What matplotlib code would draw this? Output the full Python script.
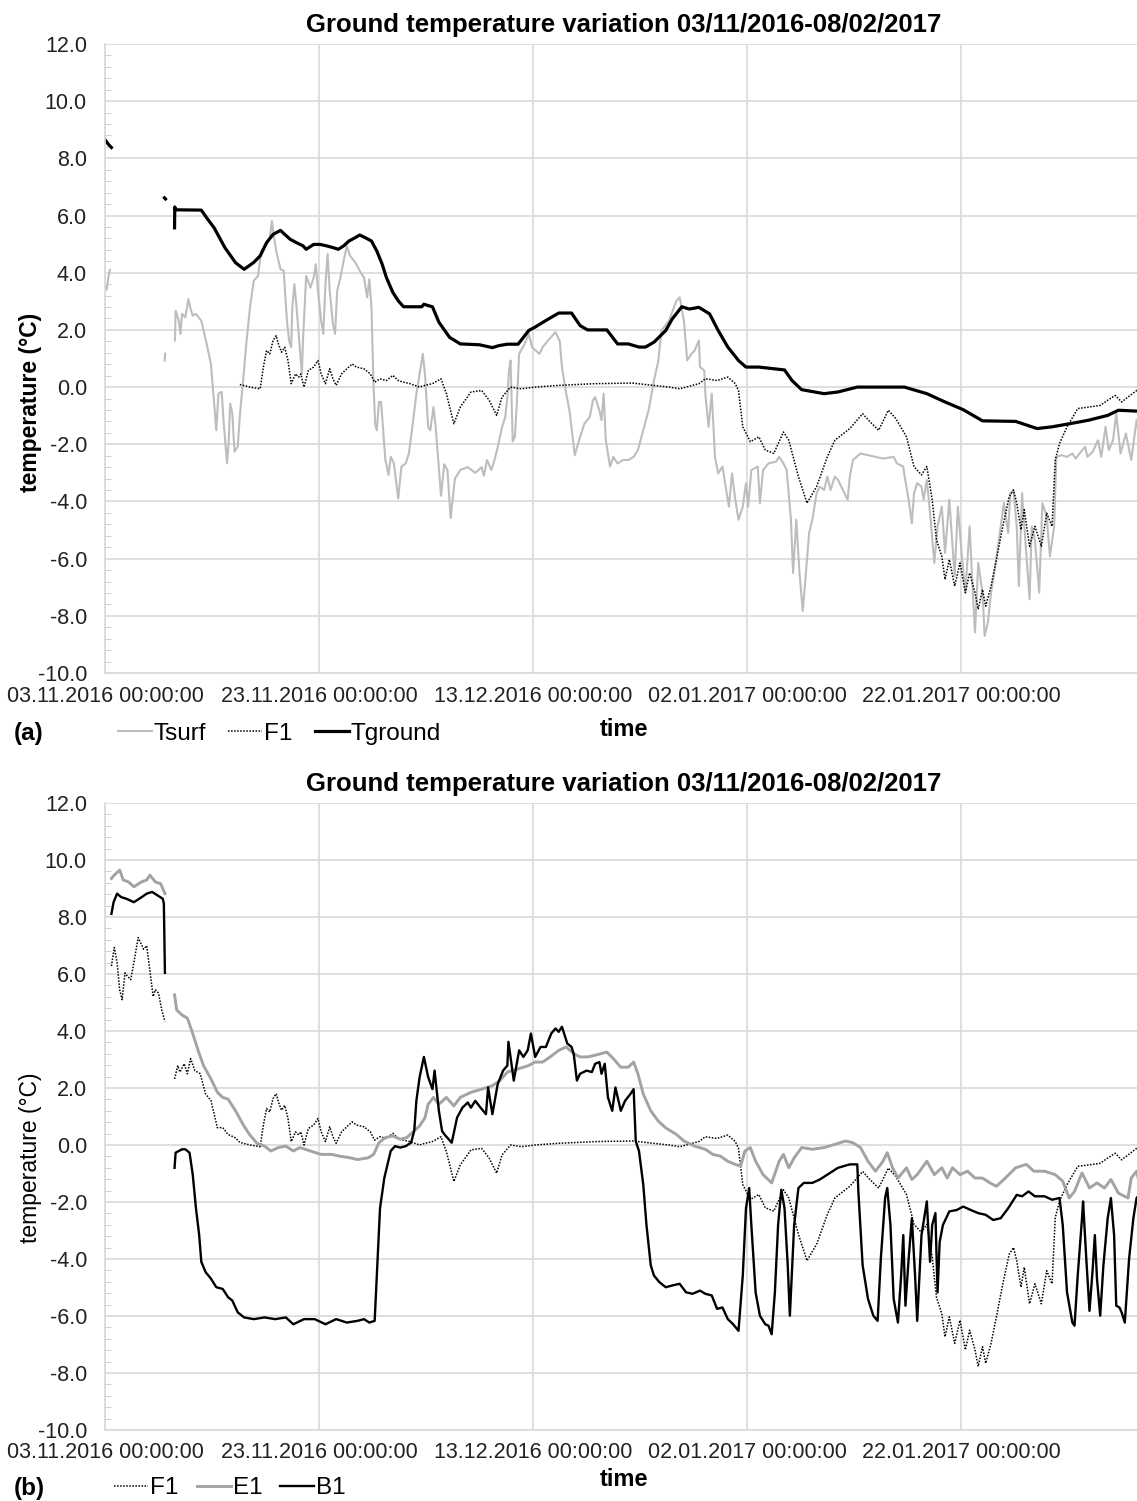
import numpy as np
import pandas as pd
import matplotlib
matplotlib.use("Agg")
import matplotlib.pyplot as plt
import matplotlib.dates as mdates
from matplotlib.lines import Line2D
from matplotlib.ticker import MultipleLocator

plt.rcParams["font.family"] = ["Liberation Sans", "DejaVu Sans"]

START = pd.Timestamp("2016-11-03")
N_DAYS = 97  # up to 08.02.2017
TITLE = "Ground temperature variation 03/11/2016-08/02/2017"
TICK_DAYS = [0, 20, 40, 60, 80]
Y_TICKS = np.arange(-10, 12.1, 2)

# series: (days since 03.11.2016, temperature °C),
# one inner list per unbroken piece of line
TSURF = [
    [(0.0, 3.5), (0.15, 3.4), (0.3, 3.8), (0.45, 4.1)],
    [(5.58, 0.93), (5.62, 1.17)],
    [(6.54, 1.63), (6.6, 2.67), (6.9, 2.32), (7.05, 1.86), (7.2, 2.56), (7.5, 2.44), (7.8, 3.08),
     (8.0, 2.73), (8.2, 2.5), (8.5, 2.56), (9.0, 2.32), (9.5, 1.51), (9.9, 0.8), (10.2, -0.58),
     (10.4, -1.51), (10.6, -0.23), (10.9, -0.17), (11.1, -1.28), (11.4, -2.67), (11.55, -1.97),
     (11.7, -0.58), (11.9, -0.93), (12.1, -2.26), (12.4, -2.09), (12.6, -1.0), (12.9, 0.2),
     (13.2, 1.5), (13.55, 2.79), (13.9, 3.72), (14.3, 3.89), (14.6, 4.76), (15.1, 5.05),
     (15.4, 5.23), (15.6, 5.81), (15.8, 5.23), (16.0, 4.76), (16.4, 4.12), (16.7, 4.07),
     (17.0, 2.32), (17.2, 1.63), (17.4, 1.39), (17.5, 2.79), (17.7, 3.6), (17.9, 2.79),
     (18.2, 1.39), (18.4, 0.46), (18.5, 1.63), (18.8, 3.89), (19.2, 3.48), (19.5, 3.83),
     (19.7, 4.3), (19.9, 3.37), (20.2, 2.32), (20.4, 1.86), (20.6, 3.6), (20.8, 4.65),
     (21.0, 3.37), (21.3, 2.21), (21.5, 1.86), (21.7, 3.37), (22.0, 3.83), (22.3, 4.41),
     (22.6, 4.94), (22.9, 4.59), (23.4, 4.36), (23.8, 4.07), (24.2, 3.83), (24.5, 3.14),
     (24.7, 3.77), (24.9, 2.79), (25.1, 0.0), (25.25, -1.3), (25.4, -1.51), (25.6, -0.52),
     (25.8, -0.52), (26.2, -2.55), (26.5, -3.07), (26.7, -2.44), (27.0, -2.67), (27.4, -3.89),
     (27.7, -2.78), (28.1, -2.67), (28.4, -2.32), (28.8, -1.16), (29.1, -0.23), (29.4, 0.46),
     (29.7, 1.16), (29.9, 0.46), (30.2, -1.39), (30.4, -1.51), (30.7, -0.7), (30.9, -1.39),
     (31.4, -3.8), (31.7, -2.7), (32.0, -2.9), (32.3, -4.58), (32.7, -3.2), (33.2, -2.9),
     (33.9, -2.8), (34.6, -3.0), (35.2, -2.8), (35.4, -3.1), (35.7, -2.55), (36.1, -2.9),
     (36.4, -2.55), (36.7, -2.1), (37.1, -1.4), (37.4, -1.05), (37.6, -0.35), (37.75, 0.58),
     (37.9, 0.93), (38.1, -1.9), (38.3, -1.74), (38.5, -0.46), (38.7, 1.16), (39.2, 1.5),
     (39.6, 1.86), (39.9, 1.4), (40.6, 1.16), (40.9, 1.4), (41.4, 1.63), (42.1, 1.92),
     (42.5, 1.6), (42.7, 0.7), (43.1, -0.23), (43.4, -0.81), (43.8, -2.09), (43.9, -2.38),
     (44.3, -1.86), (44.8, -1.28), (45.3, -1.04), (45.6, -0.46), (45.8, -0.35), (46.2, -0.81),
     (46.4, -1.16), (46.6, -0.23), (46.8, -1.86), (47.2, -2.78), (47.5, -2.44), (47.9, -2.67),
     (48.4, -2.55), (48.9, -2.55), (49.4, -2.44), (49.8, -2.2), (50.3, -1.51), (50.8, -0.81),
     (51.3, 0.23), (51.7, 0.9), (52.0, 1.98), (52.7, 2.32), (53.4, 3.02), (53.7, 3.14),
     (54.1, 2.32), (54.4, 0.93), (54.8, 1.16), (55.1, 1.28), (55.5, 1.63), (55.6, 0.7),
     (56.0, 0.58), (56.1, -0.23), (56.4, -1.39), (56.7, -0.23), (57.0, -2.44), (57.3, -3.02),
     (57.7, -2.78), (58.0, -3.48), (58.3, -4.18), (58.6, -3.02), (58.9, -3.94), (59.2, -4.64),
     (59.6, -4.18), (59.9, -3.36), (60.1, -4.18), (60.4, -2.9), (61.0, -2.78), (61.2, -4.06),
     (61.5, -2.9), (62.0, -2.67), (62.7, -2.61), (63.0, -2.44), (63.4, -2.67), (63.7, -2.9),
     (64.1, -4.64), (64.3, -6.5), (64.6, -4.64), (64.9, -6.5), (65.2, -7.83), (65.4, -6.96),
     (65.8, -5.1), (66.1, -4.64), (66.5, -3.71), (66.8, -3.48), (67.2, -3.6), (67.5, -3.13),
     (67.8, -3.6), (68.2, -3.13), (68.5, -3.25), (69.1, -3.71), (69.4, -3.94), (69.6, -3.13),
     (69.9, -2.55), (70.6, -2.32), (71.3, -2.38), (72.0, -2.44), (72.7, -2.5), (73.7, -2.44),
     (74.0, -2.67), (74.6, -2.78), (74.7, -3.07), (75.1, -3.94), (75.4, -4.76), (75.6, -3.71),
     (75.9, -3.36), (76.3, -3.48), (76.5, -3.94), (76.8, -3.25), (77.1, -4.41), (77.5, -6.15),
     (77.8, -4.87), (78.2, -4.18), (78.5, -5.8), (78.9, -3.94), (79.4, -6.61), (79.7, -4.18),
     (80.1, -6.03), (80.4, -7.19), (80.8, -4.87), (81.1, -7.19), (81.3, -8.58), (81.6, -6.15),
     (82.0, -7.19), (82.2, -8.7), (82.5, -8.24), (82.8, -7.19), (83.2, -6.26), (83.7, -4.87),
     (84.0, -4.06), (84.4, -5.1), (84.6, -3.71), (84.9, -3.6), (85.2, -4.87), (85.4, -6.96),
     (85.7, -3.71), (86.0, -5.34), (86.4, -7.42), (86.6, -4.87), (86.9, -5.34), (87.3, -7.19),
     (87.6, -4.06), (88.0, -4.52), (88.3, -5.92), (88.7, -4.87), (88.9, -2.44), (89.4, -2.38),
     (89.9, -2.44), (90.4, -2.32), (90.7, -2.5), (91.2, -2.26), (91.6, -2.09), (91.8, -2.44),
     (92.3, -2.26), (92.8, -1.86), (93.1, -2.44), (93.5, -1.39), (93.8, -2.2), (94.2, -1.86),
     (94.5, -0.93), (94.9, -2.32), (95.4, -1.62), (95.9, -2.55), (96.4, -1.16), (97.0, -2.5)],
]

TGROUND = [
    [(0.0, 8.65), (0.3, 8.5), (0.6, 8.38)],
    [(5.55, 6.62), (5.65, 6.58)],
    [(6.5, 5.57), (6.52, 6.3), (6.6, 6.2), (9.0, 6.19), (9.5, 5.92), (10.2, 5.57), (11.2, 4.88),
     (12.2, 4.35), (13.0, 4.12), (13.9, 4.36), (14.5, 4.59), (15.1, 5.05), (15.7, 5.34),
     (16.4, 5.48), (16.8, 5.34), (17.3, 5.17), (17.9, 5.05), (18.5, 4.94), (18.8, 4.82),
     (19.5, 4.99), (20.1, 4.99), (20.7, 4.94), (21.3, 4.88), (21.8, 4.82), (22.3, 4.94),
     (22.8, 5.11), (23.4, 5.23), (23.8, 5.32), (24.3, 5.23), (24.9, 5.11), (25.4, 4.76),
     (25.9, 4.3), (26.3, 3.83), (26.9, 3.31), (27.4, 3.02), (27.9, 2.81), (29.6, 2.81),
     (29.8, 2.9), (30.2, 2.85), (30.6, 2.81), (31.2, 2.27), (32.2, 1.74), (33.2, 1.51),
     (35.0, 1.48), (36.2, 1.38), (36.8, 1.45), (37.6, 1.5), (38.6, 1.5), (39.6, 1.98),
     (40.2, 2.1), (41.2, 2.33), (42.4, 2.59), (43.6, 2.59), (44.4, 2.15), (45.1, 2.0),
     (46.9, 2.0), (47.9, 1.51), (48.9, 1.51), (49.9, 1.4), (50.5, 1.4), (51.3, 1.57),
     (52.4, 1.98), (53.0, 2.38), (53.9, 2.81), (54.6, 2.73), (55.5, 2.79), (56.5, 2.56),
     (57.3, 1.98), (58.2, 1.4), (59.2, 0.93), (59.9, 0.7), (61.1, 0.7), (63.5, 0.6),
     (64.2, 0.23), (65.1, -0.09), (67.2, -0.23), (68.5, -0.17), (70.3, 0.0), (74.7, 0.0),
     (76.8, -0.23), (78.5, -0.52), (80.2, -0.79), (82.0, -1.18), (85.1, -1.2), (87.1, -1.45),
     (88.5, -1.39), (90.6, -1.25), (91.9, -1.16), (93.7, -0.99), (94.7, -0.81), (97.0, -0.85)],
]

F1 = [
    [(0.6, 6.28), (0.87, 6.93), (1.13, 6.4), (1.37, 5.45), (1.6, 5.1), (1.87, 6.04), (2.1, 5.92),
     (2.4, 5.8), (2.7, 6.4), (3.1, 7.28), (3.4, 7.04), (3.6, 6.87), (3.9, 6.99), (4.1, 6.4),
     (4.5, 5.21), (4.7, 5.45), (5.0, 5.33), (5.3, 4.74), (5.6, 4.33)],
    [(6.5, 2.32), (6.8, 2.79), (7.0, 2.56), (7.4, 2.85), (7.7, 2.5), (8.0, 3.03), (8.4, 2.61),
     (8.9, 2.5), (9.4, 1.79), (9.9, 1.56), (10.2, 1.08), (10.5, 0.61), (11.0, 0.61), (11.5, 0.37),
     (12.2, 0.25), (12.6, 0.09), (13.55, 0.0), (14.5, -0.06), (14.8, 0.7), (15.1, 1.28),
     (15.4, 1.16), (15.7, 1.63), (16.0, 1.8), (16.2, 1.51), (16.5, 1.22), (16.8, 1.39),
     (17.1, 0.93), (17.4, 0.12), (17.8, 0.46), (18.1, 0.35), (18.3, 0.46), (18.6, 0.0),
     (19.0, 0.58), (19.5, 0.7), (19.9, 0.93), (20.2, 0.46), (20.6, 0.12), (21.0, 0.64),
     (21.3, 0.29), (21.6, 0.06), (22.1, 0.46), (22.6, 0.64), (23.1, 0.81), (23.5, 0.7),
     (24.2, 0.64), (24.8, 0.46), (25.2, 0.17), (25.7, 0.29), (26.3, 0.23), (26.9, 0.41),
     (27.4, 0.23), (27.9, 0.17), (28.5, 0.12), (29.4, 0.0), (29.9, 0.06), (30.6, 0.12),
     (31.4, 0.29), (31.9, -0.23), (32.6, -1.28), (33.2, -0.7), (34.2, -0.17), (35.2, -0.12),
     (35.9, -0.46), (36.6, -0.99), (37.1, -0.35), (37.9, 0.0), (38.9, -0.06), (40.2, 0.0),
     (42.4, 0.06), (45.8, 0.12), (49.3, 0.14), (52.7, 0.0), (53.7, -0.06), (55.5, 0.12),
     (56.1, 0.29), (57.2, 0.23), (58.2, 0.35), (58.9, 0.12), (59.2, -0.12), (59.6, -1.39),
     (60.3, -1.91), (61.1, -1.74), (61.7, -2.2), (62.5, -2.32), (63.4, -1.57), (63.9, -1.86),
     (64.8, -3.13), (65.6, -4.06), (66.5, -3.48), (67.5, -2.44), (68.2, -1.86), (69.6, -1.45),
     (70.8, -0.93), (71.5, -1.22), (72.3, -1.51), (73.2, -0.81), (73.9, -1.1), (74.9, -1.74),
     (75.6, -2.78), (76.3, -3.07), (76.8, -2.78), (77.3, -3.94), (77.7, -5.34), (78.2, -5.92),
     (78.5, -6.73), (78.9, -6.03), (79.4, -6.96), (79.9, -6.15), (80.4, -7.19), (80.8, -6.5),
     (81.3, -7.19), (81.6, -7.77), (82.0, -7.08), (82.3, -7.66), (82.8, -6.96), (83.3, -6.03),
     (83.9, -4.87), (84.5, -3.83), (84.9, -3.6), (85.2, -4.06), (85.6, -4.99), (85.9, -4.29),
     (86.4, -5.57), (86.9, -4.87), (87.5, -5.57), (88.0, -4.41), (88.5, -4.87), (88.8, -2.55),
     (89.2, -1.97), (89.9, -1.39), (90.9, -0.75), (91.9, -0.7), (93.0, -0.64), (93.7, -0.46),
     (94.4, -0.29), (95.0, -0.52), (96.4, -0.12), (97.0, -0.1)],
]
F1_FIRST_DAY_A = 12.6  # panel (a) shows F1 only from here on

E1 = [
    [(0.6, 9.35), (0.87, 9.47), (1.37, 9.65), (1.7, 9.3), (2.2, 9.23), (2.7, 9.06), (3.4, 9.23),
     (3.9, 9.3), (4.2, 9.47), (4.7, 9.23), (5.2, 9.17), (5.6, 8.82)],
    [(6.5, 5.27), (6.7, 4.74), (7.2, 4.56), (7.7, 4.45), (8.2, 3.91), (8.7, 3.32), (9.2, 2.79),
     (9.9, 2.32), (10.5, 1.85), (11.0, 1.67), (11.5, 1.61), (12.2, 1.2), (12.9, 0.72),
     (13.5, 0.37), (14.2, 0.06), (14.9, -0.04), (15.5, -0.21), (16.2, -0.09), (16.9, -0.04),
     (17.6, -0.21), (18.2, -0.09), (19.2, -0.21), (20.2, -0.33), (21.2, -0.33), (21.9, -0.39),
     (22.9, -0.45), (23.6, -0.51), (24.6, -0.45), (25.1, -0.33), (25.6, 0.08), (26.2, 0.26),
     (26.9, 0.32), (27.6, 0.2), (28.2, 0.26), (28.9, 0.5), (29.4, 0.67), (29.9, 0.96),
     (30.2, 1.43), (30.7, 1.67), (31.2, 1.43), (31.9, 1.67), (32.6, 1.37), (33.2, 1.67),
     (34.2, 1.85), (35.2, 1.96), (36.2, 2.08), (36.9, 2.26), (37.6, 2.56), (38.6, 2.67),
     (39.6, 2.79), (40.2, 2.91), (40.9, 2.91), (41.6, 3.09), (42.4, 3.32), (43.1, 3.44),
     (43.8, 3.2), (44.4, 3.09), (45.1, 3.09), (45.8, 3.15), (46.9, 3.26), (47.5, 3.03),
     (48.2, 2.73), (48.9, 2.73), (49.4, 2.91), (49.8, 2.5), (50.3, 1.79), (51.0, 1.2),
     (51.7, 0.84), (52.4, 0.6), (53.4, 0.37), (54.1, 0.14), (55.1, -0.04), (56.1, -0.15),
     (56.8, -0.33), (57.5, -0.39), (58.2, -0.57), (58.9, -0.68), (59.4, -0.74), (59.8, -0.21),
     (60.3, -0.09), (60.8, -0.57), (61.5, -1.04), (62.3, -1.33), (63.0, -0.57), (63.4, -0.33),
     (63.9, -0.8), (64.4, -0.45), (65.1, -0.09), (66.1, -0.15), (67.2, -0.09), (68.2, 0.02),
     (69.2, 0.14), (69.9, 0.08), (70.6, -0.09), (71.3, -0.57), (72.0, -0.92), (72.7, -0.57),
     (73.1, -0.27), (73.6, -0.8), (74.1, -1.16), (74.9, -0.8), (75.4, -1.21), (75.9, -1.04),
     (76.8, -0.57), (77.5, -1.04), (78.2, -0.8), (78.7, -1.16), (79.2, -0.8), (79.9, -1.04),
     (80.6, -0.92), (81.3, -1.16), (82.0, -1.16), (82.7, -1.33), (83.3, -1.45), (84.0, -1.21),
     (85.1, -0.8), (86.1, -0.68), (86.8, -0.92), (87.8, -0.92), (88.8, -1.04), (89.5, -1.27),
     (90.1, -1.86), (90.6, -1.63), (91.3, -0.98), (92.0, -1.51), (92.7, -1.33), (93.4, -1.51),
     (94.0, -1.21), (94.7, -1.69), (95.6, -1.86), (95.9, -1.16), (96.4, -0.92), (97.0, -1.9)],
]

B1 = [
    [(0.6, 8.11), (0.8, 8.52), (1.13, 8.82), (1.5, 8.7), (2.0, 8.64), (2.7, 8.52), (3.2, 8.64),
     (3.9, 8.82), (4.4, 8.88), (4.9, 8.76), (5.4, 8.64), (5.5, 8.47), (5.6, 6.04)],
    [(6.5, -0.8), (6.6, -0.27), (6.9, -0.21), (7.2, -0.15), (7.5, -0.15), (7.9, -0.27),
     (8.2, -1.04), (8.5, -2.22), (8.8, -3.16), (9.0, -4.1), (9.4, -4.46), (9.9, -4.69),
     (10.4, -4.99), (11.0, -5.05), (11.5, -5.34), (11.9, -5.46), (12.4, -5.87), (13.0, -6.05),
     (13.9, -6.11), (14.9, -6.05), (15.9, -6.11), (16.9, -6.05), (17.6, -6.29), (18.6, -6.11),
     (19.6, -6.11), (20.6, -6.29), (21.6, -6.11), (22.6, -6.23), (23.6, -6.17), (24.2, -6.11),
     (24.7, -6.23), (25.2, -6.17), (25.4, -4.58), (25.7, -2.22), (26.1, -1.16), (26.4, -0.68),
     (26.7, -0.21), (27.1, -0.04), (27.6, -0.09), (28.1, -0.04), (28.6, 0.08), (28.9, 0.5),
     (29.1, 1.56), (29.4, 2.38), (29.8, 3.09), (30.2, 2.38), (30.6, 1.96), (30.8, 2.61),
     (31.2, 1.2), (31.5, 0.49), (31.7, 0.38), (32.4, 0.08), (32.9, 0.96), (33.4, 1.31),
     (33.9, 1.49), (34.2, 1.31), (34.6, 1.55), (35.1, 1.31), (35.6, 1.08), (35.8, 2.02),
     (36.2, 1.08), (36.7, 2.14), (37.2, 2.61), (37.6, 2.79), (37.7, 3.62), (38.2, 2.26),
     (38.7, 3.32), (39.1, 3.09), (39.5, 3.32), (39.8, 3.91), (40.2, 3.09), (40.7, 3.44),
     (41.2, 3.44), (41.7, 3.91), (42.1, 4.09), (42.4, 3.97), (42.7, 4.15), (43.2, 3.56),
     (43.6, 3.44), (43.8, 3.2), (44.1, 2.26), (44.4, 2.5), (45.0, 2.61), (45.5, 2.56),
     (45.8, 2.85), (46.2, 2.91), (46.4, 2.5), (46.7, 2.85), (47.0, 1.67), (47.4, 1.2),
     (47.7, 2.02), (48.2, 1.2), (48.6, 1.55), (49.1, 1.79), (49.4, 1.96), (49.6, 0.13),
     (49.9, -0.21), (50.3, -1.39), (50.6, -2.81), (51.0, -4.22), (51.3, -4.58), (51.8, -4.81),
     (52.4, -4.99), (53.0, -4.93), (53.7, -4.87), (54.3, -5.17), (54.9, -5.22), (55.6, -5.11),
     (56.1, -5.22), (56.7, -5.28), (57.2, -5.75), (57.7, -5.7), (58.2, -6.11), (58.7, -6.29),
     (59.2, -6.52), (59.6, -4.58), (59.9, -2.22), (60.2, -1.51), (60.4, -2.81), (60.8, -5.17),
     (61.2, -5.99), (61.7, -6.29), (62.0, -6.34), (62.3, -6.64), (62.6, -5.17), (62.9, -2.81),
     (63.2, -1.57), (63.5, -2.22), (63.8, -4.22), (64.0, -5.99), (64.4, -2.81), (64.8, -1.51),
     (65.3, -1.33), (66.1, -1.33), (66.8, -1.21), (67.5, -1.04), (68.5, -0.8), (69.6, -0.68),
     (70.3, -0.68), (70.4, -1.63), (70.8, -4.22), (71.3, -5.4), (71.8, -5.99), (72.2, -6.17),
     (72.5, -3.99), (72.9, -1.86), (73.1, -1.51), (73.4, -2.81), (73.7, -5.4), (74.1, -6.23),
     (74.4, -4.58), (74.6, -3.16), (74.8, -5.64), (75.1, -3.99), (75.4, -2.57), (75.7, -4.58),
     (75.9, -6.17), (76.3, -3.16), (76.8, -1.98), (77.1, -4.1), (77.3, -2.81), (77.6, -2.39),
     (77.8, -5.17), (78.0, -3.4), (78.3, -2.81), (78.9, -2.33), (79.6, -2.28), (80.2, -2.16),
     (80.9, -2.28), (81.6, -2.39), (82.3, -2.45), (83.0, -2.63), (83.7, -2.57), (84.4, -2.22),
     (85.2, -1.75), (85.7, -1.8), (86.3, -1.63), (86.9, -1.8), (87.8, -1.8), (88.5, -1.92),
     (89.2, -1.86), (89.5, -2.81), (89.9, -5.17), (90.4, -6.23), (90.6, -6.34), (90.9, -4.58),
     (91.3, -2.57), (91.4, -1.98), (91.7, -3.99), (92.0, -5.82), (92.3, -4.34), (92.5, -3.16),
     (92.7, -4.69), (93.0, -5.99), (93.3, -4.22), (93.7, -2.57), (94.0, -1.86), (94.3, -3.16),
     (94.5, -5.64), (94.8, -5.7), (95.0, -5.87), (95.3, -6.23), (95.7, -3.99), (96.1, -2.57),
     (96.4, -1.86), (97.0, -1.6)],
]

X0 = mdates.date2num(START)


def series_xy(segments, first_day=None):
    """Join the pieces into x (date numbers) / y arrays, NaN between pieces."""
    xs, ys = [], []
    for seg in segments:
        for d, v in seg:
            if first_day is not None and d < first_day:
                continue
            xs.append(X0 + d)
            ys.append(v)
        xs.append(np.nan)
        ys.append(np.nan)
    return np.array(xs), np.array(ys)


W, H = 1137, 1501
fig = plt.figure(figsize=(W / 100, H / 100), dpi=100)

GRID = "#d9d9d9"
STYLES = {
    "Tsurf": dict(color="#bdbdbd", lw=1.5),
    "F1": dict(color="black", lw=1.1, ls=(0, (1, 1))),
    "Tground": dict(color="black", lw=2.3),
    "E1": dict(color="#a3a3a3", lw=2.1),
    "B1": dict(color="black", lw=1.7),
}


def style_axes(ax, bold_ylabel, ylabel_y, xlabel_y):
    ax.set_xlim(X0, X0 + N_DAYS)
    ax.set_ylim(-10, 12)
    ax.set_yticks(Y_TICKS)
    ax.set_yticklabels([f"{v:.1f}" for v in Y_TICKS])
    ax.yaxis.set_minor_locator(MultipleLocator(0.4))
    ticks = [X0 + d for d in TICK_DAYS]
    ax.set_xticks(ticks)
    ax.set_xticklabels([(START + pd.Timedelta(days=d)).strftime("%d.%m.%Y %H:%M:%S")
                        for d in TICK_DAYS])
    ax.tick_params(axis="y", which="major", length=0, pad=13, labelsize=15.5,
                   labelcolor="#222222")
    ax.tick_params(axis="y", which="minor", length=4, direction="in", color="#c8c8c8")
    ax.tick_params(axis="x", length=0, pad=9, labelsize=15.5, labelcolor="#222222")
    ax.grid(True, which="major", color=GRID, lw=1.2)
    ax.set_axisbelow(True)
    for side in ["top", "right"]:
        ax.spines[side].set_visible(False)
    for side in ["left", "bottom"]:
        ax.spines[side].set_color(GRID)
        ax.spines[side].set_linewidth(1.2)
    ax.set_title(TITLE, fontsize=18.5, fontweight="bold", pad=8.5)
    ax.set_xlabel("time", fontsize=17, fontweight="bold")
    ax.xaxis.set_label_coords(0.5, xlabel_y)
    ax.xaxis.label.set_va("center")
    ax.set_ylabel("temperature (°C)", fontsize=16.5,
                  fontweight="bold" if bold_ylabel else "normal")
    ax.yaxis.set_label_coords(-0.0713, ylabel_y)
    ax.yaxis.label.set_va("center")


def add_legend(names, x_px, y_px, colsp):
    handles = [Line2D([], [], **STYLES[n]) for n in names]
    fig.legend(handles, names, loc="center left",
               bbox_to_anchor=(x_px / W, 1 - y_px / H), ncol=len(names),
               frameon=False, fontsize=17.5, handlelength=1.4, handletextpad=0.08,
               columnspacing=colsp, borderpad=0, borderaxespad=0)


# panel (a)
ax_a = fig.add_axes([105 / W, 1 - 673 / H, 1038 / W, 629 / H])
x, y = series_xy(TSURF)
ax_a.plot(x, y, **STYLES["Tsurf"])
x, y = series_xy(F1, first_day=F1_FIRST_DAY_A)
ax_a.plot(x, y, **STYLES["F1"])
x, y = series_xy(TGROUND)
ax_a.plot(x, y, **STYLES["Tground"])
style_axes(ax_a, True, 0.43, -(730 - 673) / 629)
add_legend(["Tsurf", "F1", "Tground"], 118, 734, 0.9)
fig.text(29 / W, 1 - 734 / H, "(a)", fontsize=17.5, fontweight="bold",
         ha="center", va="center")

# panel (b)
ax_b = fig.add_axes([105 / W, 1 - 1430 / H, 1038 / W, 627 / H])
x, y = series_xy(F1)
ax_b.plot(x, y, **STYLES["F1"])
x, y = series_xy(E1)
ax_b.plot(x, y, **STYLES["E1"])
x, y = series_xy(B1)
ax_b.plot(x, y, **STYLES["B1"])
style_axes(ax_b, False, 0.435, -(1479 - 1430) / 627)
add_legend(["F1", "E1", "B1"], 114, 1488, 0.75)
fig.text(29 / W, 1 - 1488 / H, "(b)", fontsize=17.5, fontweight="bold",
         ha="center", va="center")

fig.savefig("out.png", dpi=100)
